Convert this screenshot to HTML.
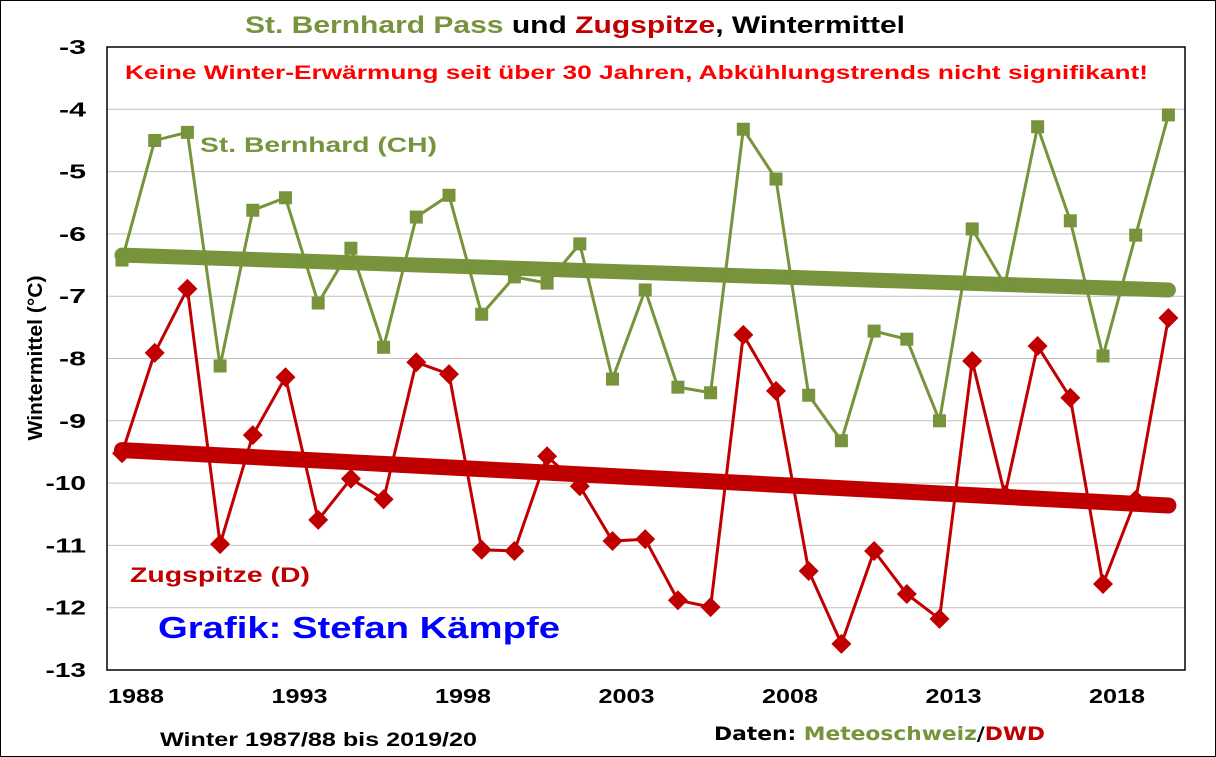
<!DOCTYPE html>
<html><head><meta charset="utf-8"><style>
body{margin:0;background:#fff}
svg{display:block;font-family:"Liberation Sans",Arial,sans-serif}
</style></head><body>
<svg id="c" width="1216" height="757" viewBox="0 0 1216 757">
<rect x="0.5" y="0.5" width="1215" height="756" fill="#fff" stroke="#000"/>
<text x="245" y="33" font-size="24" font-weight="bold" textLength="660" lengthAdjust="spacingAndGlyphs"><tspan fill="#77933C">St. Bernhard Pass</tspan><tspan fill="#000"> und </tspan><tspan fill="#C00000">Zugspitze</tspan><tspan fill="#000">, Wintermittel</tspan></text>
<g id="grid"></g><g id="plot"></g>
<text x="125" y="79" font-size="19" font-weight="bold" fill="#FF0000" textLength="1023" lengthAdjust="spacingAndGlyphs">Keine Winter-Erwärmung seit über 30 Jahren, Abkühlungstrends nicht signifikant!</text>
<text x="200" y="152" font-size="21" font-weight="bold" fill="#77933C" textLength="237" lengthAdjust="spacingAndGlyphs">St. Bernhard (CH)</text>
<text x="130" y="582" font-size="21" font-weight="bold" fill="#C00000" textLength="180" lengthAdjust="spacingAndGlyphs">Zugspitze (D)</text>
<text x="158" y="638" font-size="31" font-weight="bold" fill="#0000FF" textLength="402" lengthAdjust="spacingAndGlyphs">Grafik: Stefan Kämpfe</text>
<text x="42" y="358" text-anchor="middle" font-size="20" font-weight="bold" textLength="165" lengthAdjust="spacingAndGlyphs" transform="rotate(-90 42 358)">Wintermittel (°C)</text>
<text x="160" y="746" font-size="19" font-weight="bold" textLength="317" lengthAdjust="spacingAndGlyphs">Winter 1987/88 bis 2019/20</text>
<text x="714" y="740" font-size="19" font-weight="bold" font-family="'DejaVu Sans',sans-serif" textLength="331" lengthAdjust="spacingAndGlyphs"><tspan fill="#000">Daten: </tspan><tspan fill="#77933C">Meteoschweiz</tspan><tspan fill="#000">/</tspan><tspan fill="#C00000">DWD</tspan></text>
</svg>
<script>
const years=[1988,1989,1990,1991,1992,1993,1994,1995,1996,1997,1998,1999,2000,2001,2002,2003,2004,2005,2006,2007,2008,2009,2010,2011,2012,2013,2014,2015,2016,2017,2018,2019,2020];
const bernhard=[-6.42,-4.5,-4.37,-8.12,-5.62,-5.42,-7.11,-6.23,-7.82,-5.73,-5.38,-7.29,-6.69,-6.79,-6.16,-8.33,-6.9,-8.46,-8.55,-4.32,-5.12,-8.59,-9.32,-7.56,-7.69,-9.0,-5.92,-6.82,-4.28,-5.79,-7.96,-6.02,-4.09];
const zugspitze=[-9.52,-7.91,-6.88,-10.98,-9.23,-8.3,-10.59,-9.93,-10.26,-8.06,-8.25,-11.07,-11.09,-9.57,-10.05,-10.93,-10.9,-11.88,-11.99,-7.62,-8.52,-11.41,-12.58,-11.09,-11.78,-12.18,-8.04,-10.19,-7.8,-8.63,-11.62,-10.27,-7.35];
const bernhardTrend=[-6.34,-6.9];
const zugspitzeTrend=[-9.47,-10.36];
const yTicks=[-3,-4,-5,-6,-7,-8,-9,-10,-11,-12,-13];
const xTicks=[1988,1993,1998,2003,2008,2013,2018];
const NS="http://www.w3.org/2000/svg";
const X0=107,X1=1185,Y0=47,Y1=670;
function xs(y){return 122+(y-1988)*32.7;}
function ys(v){return Y0+(-3-v)*(Y1-Y0)/10;}
function mk(t,a,p){const e=document.createElementNS(NS,t);for(const k in a)e.setAttribute(k,a[k]);(p||document.getElementById('plot')).appendChild(e);return e;}
const grid=document.getElementById('grid');
yTicks.forEach(v=>{
 const l=mk('line',{x1:X0,x2:X1,y1:ys(v),y2:ys(v),stroke:'#BFBFBF','stroke-width':1},grid);
 
 
 const t=mk('text',{x:X0-21,y:ys(v)+7,'text-anchor':'end','font-size':20,'font-weight':'bold'},grid);
 t.textContent=v;
 
 
 t.setAttribute('textLength',String(v).length*13.5);
 t.setAttribute('lengthAdjust','spacingAndGlyphs');
});
const fr=mk('rect',{x:X0,y:Y0,width:X1-X0,height:Y1-Y0,fill:'none',stroke:'#000','stroke-width':1.5},grid);


xTicks.forEach(y=>{
 const t=mk('text',{x:xs(y)-14,y:703,'font-size':20,'font-weight':'bold'},grid);
 t.textContent=y;
 
 
 t.setAttribute('textLength',56);
 t.setAttribute('lengthAdjust','spacingAndGlyphs');
});
function trend(tr,col,w,name){
 const l=mk('line',{x1:xs(years[0]),y1:ys(tr[0]),x2:xs(years[years.length-1]),y2:ys(tr[1]),stroke:col,'stroke-width':w,'stroke-linecap':'round'});
 
 
}
function series(vals,col,shape,name){
 const p=mk('polyline',{points:vals.map((v,i)=>xs(years[i])+','+ys(v)).join(' '),fill:'none',stroke:col,'stroke-width':3});
 
 
 vals.forEach((v,i)=>{
  const x=xs(years[i]),y=ys(v);let m;
  if(shape==='sq')m=mk('rect',{x:x-6.5,y:y-6.5,width:13,height:13,fill:col});
  else m=mk('polygon',{points:`${x},${y-10} ${x+10},${y} ${x},${y+10} ${x-10},${y}`,fill:col});
  
  
 });
}
trend(bernhardTrend,'#77933C',15,'bernhard-trend');
trend(zugspitzeTrend,'#C00000',16,'zugspitze-trend');
series(bernhard,'#77933C','sq','bernhard');
series(zugspitze,'#C00000','dia','zugspitze');
</script>
</body></html>
